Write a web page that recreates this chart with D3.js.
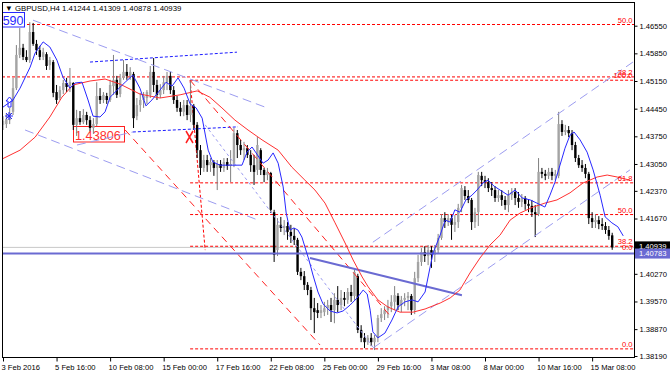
<!DOCTYPE html>
<html lang="en">
<head>
  <meta charset="UTF-8">
  <title>GBPUSD,H4</title>
  <style>
    body { margin: 0; background: #fff; }
    svg { display: block; font-family: "Liberation Sans", Arial, sans-serif; }
    .axis text { font-size: 7.6px; fill: #000; }
    .axis line { stroke: #000; }
  </style>
</head>
<body>
  <svg id="chart" width="670" height="376"></svg>

  <script src="https://d3js.org/d3.v7.min.js"></script>
  <script>
    // time axis
    const tickBars = [0, 16, 32, 48, 64, 80, 96, 112, 128, 144, 160, 176];
    const timeLabels = ["3 Feb 2016", "5 Feb 16:00", "10 Feb 08:00", "15 Feb 00:00", "17 Feb 16:00", "22 Feb 08:00",
      "25 Feb 00:00", "29 Feb 16:00", "3 Mar 08:00", "8 Mar 00:00", "10 Mar 16:00", "15 Mar 08:00"];
    const priceTicks = [1.4655, 1.4585, 1.4515, 1.4445, 1.4375, 1.4305, 1.4237, 1.4167, 1.4027, 1.3957, 1.3887, 1.3819];

    // H4 candles, bar 0 = 3 Feb 00:00
    const open = [
      1.4404,1.4406,1.4416,1.4437,1.4497,1.4581,1.4599,1.4576,1.4568,1.4639,
      1.4609,1.4593,1.4576,1.4583,1.4555,1.4563,1.4487,1.4472,1.4492,1.4510,
      1.4502,1.4510,1.4404,1.4421,1.4411,1.4429,1.4416,1.4396,1.4406,1.4477,
      1.4467,1.4477,1.4467,1.4502,1.4518,1.4482,1.4523,1.4538,1.4528,1.4533,
      1.4426,1.4454,1.4467,1.4472,1.4480,1.4538,1.4505,1.4480,1.4492,1.4512,
      1.4528,1.4492,1.4467,1.4447,1.4437,1.4454,1.4429,1.4452,1.4404,1.4340,
      1.4295,1.4315,1.4302,1.4310,1.4295,1.4305,1.4295,1.4310,1.4300,1.4305,
      1.4383,1.4353,1.4340,1.4345,1.4328,1.4302,1.4290,1.4340,1.4290,1.4277,
      1.4282,1.4183,1.4087,1.4151,1.4143,1.4148,1.4133,1.4123,1.4113,1.4032,
      1.4021,1.3999,1.3986,1.3940,1.3935,1.3928,1.3930,1.3940,1.3948,1.3935,
      1.3961,1.3948,1.3966,1.3961,1.3981,1.3971,1.4021,1.3885,1.3865,1.3854,
      1.3865,1.3854,1.3865,1.3915,1.3925,1.3935,1.3945,1.3956,1.3971,1.3948,
      1.3961,1.3966,1.3971,1.3935,1.4016,1.4057,1.4082,1.4072,1.4087,1.4075,
      1.4087,1.4118,1.4168,1.4158,1.4168,1.4151,1.4158,1.4194,1.4239,1.4224,
      1.4214,1.4158,1.4183,1.4275,1.4264,1.4259,1.4244,1.4239,1.4219,1.4226,
      1.4214,1.4201,1.4226,1.4234,1.4219,1.4209,1.4219,1.4204,1.4199,1.4183,
      1.4178,1.4285,1.4280,1.4275,1.4285,1.4275,1.4275,1.4406,1.4386,1.4391,
      1.4383,1.4353,1.4320,1.4302,1.4295,1.4280,1.4168,1.4158,1.4163,1.4153,
      1.4148,1.4138,1.41244];
    const high = [
      1.4426,1.4434,1.4447,1.4523,1.4606,1.4649,1.4609,1.4593,1.4664,1.4662,
      1.4619,1.4604,1.4599,1.4588,1.4576,1.4568,1.4505,1.4502,1.4518,1.4523,
      1.4548,1.4512,1.4442,1.4439,1.4444,1.4437,1.4426,1.4421,1.4512,1.4497,
      1.4487,1.4485,1.4518,1.4581,1.4528,1.4533,1.4568,1.4558,1.4550,1.4538,
      1.4472,1.4485,1.4487,1.4492,1.4553,1.4573,1.4518,1.4507,1.4528,1.4538,
      1.4538,1.4502,1.4477,1.4462,1.4467,1.4467,1.4518,1.4457,1.4411,1.4353,
      1.4328,1.4328,1.4320,1.4315,1.4315,1.4315,1.4320,1.4320,1.4340,1.4396,
      1.4391,1.4366,1.4361,1.4353,1.4340,1.4328,1.4373,1.4345,1.4295,1.4295,
      1.4285,1.4189,1.4168,1.4171,1.4163,1.4158,1.4151,1.4143,1.4118,1.4042,
      1.4034,1.4006,1.3994,1.3966,1.3953,1.3948,1.3956,1.3961,1.3966,1.3978,
      1.3996,1.3986,1.3981,1.3991,1.3999,1.4037,1.4027,1.3897,1.3877,1.3872,
      1.3877,1.3872,1.3923,1.3940,1.3945,1.3961,1.3973,1.3996,1.3978,1.3971,
      1.3978,1.3981,1.3976,1.4032,1.4075,1.4092,1.4097,1.4100,1.4097,1.4100,
      1.4128,1.4178,1.4183,1.4178,1.4176,1.4176,1.4204,1.4252,1.4249,1.4239,
      1.4219,1.4194,1.4285,1.4285,1.4275,1.4269,1.4259,1.4249,1.4239,1.4239,
      1.4224,1.4239,1.4244,1.4244,1.4234,1.4229,1.4224,1.4216,1.4214,1.4201,
      1.4320,1.4295,1.4290,1.4295,1.4295,1.4290,1.4437,1.4416,1.4404,1.4401,
      1.4391,1.4361,1.4328,1.4315,1.4305,1.4285,1.4183,1.4178,1.4173,1.4168,
      1.4158,1.4148,1.41309];
    const low = [
      1.4391,1.4396,1.4406,1.4429,1.4492,1.4573,1.4568,1.4563,1.4561,1.4604,
      1.4581,1.4568,1.4568,1.4543,1.4543,1.4474,1.4457,1.4467,1.4482,1.4487,
      1.4487,1.4391,1.4376,1.4404,1.4406,1.4404,1.4388,1.4381,1.4401,1.4457,
      1.4459,1.4457,1.4462,1.4480,1.4472,1.4474,1.4518,1.4518,1.4518,1.4396,
      1.4416,1.4437,1.4447,1.4457,1.4472,1.4487,1.4467,1.4472,1.4482,1.4492,
      1.4482,1.4457,1.4437,1.4426,1.4426,1.4416,1.4411,1.4391,1.4320,1.4277,
      1.4285,1.4285,1.4285,1.4275,1.4239,1.4285,1.4285,1.4290,1.4259,1.4297,
      1.4320,1.4328,1.4315,1.4320,1.4285,1.4252,1.4277,1.4277,1.4259,1.4264,
      1.4181,1.4057,1.4072,1.4133,1.4125,1.4113,1.4105,1.4100,1.4024,1.4011,
      1.3986,1.3973,1.3910,1.3877,1.3915,1.3915,1.3920,1.3923,1.3905,1.3902,
      1.3930,1.3935,1.3945,1.3951,1.3956,1.3961,1.3877,1.3854,1.3839,1.3847,
      1.3844,1.3834,1.3854,1.3905,1.3910,1.3915,1.3930,1.3935,1.3935,1.3930,
      1.3945,1.3935,1.3923,1.3925,1.4006,1.4047,1.4057,1.4049,1.4042,1.4057,
      1.4077,1.4113,1.4143,1.4148,1.4113,1.4133,1.4143,1.4183,1.4214,1.4206,
      1.4138,1.4143,1.4148,1.4249,1.4244,1.4234,1.4224,1.4209,1.4209,1.4199,
      1.4189,1.4183,1.4214,1.4201,1.4194,1.4196,1.4189,1.4183,1.4171,1.4120,
      1.4173,1.4269,1.4264,1.4267,1.4264,1.4264,1.4269,1.4376,1.4378,1.4373,
      1.4340,1.4310,1.4295,1.4285,1.4269,1.4153,1.4143,1.4143,1.4140,1.4138,
      1.4128,1.4113,1.40878];
    const close = [
      1.4414,1.4419,1.4434,1.4497,1.4581,1.4599,1.4576,1.4568,1.4639,1.4609,
      1.4593,1.4576,1.4588,1.4553,1.4568,1.4485,1.4467,1.4492,1.4510,1.4500,
      1.4512,1.4404,1.4421,1.4411,1.4429,1.4416,1.4396,1.4406,1.4477,1.4467,
      1.4480,1.4467,1.4505,1.4518,1.4480,1.4523,1.4538,1.4528,1.4538,1.4421,
      1.4454,1.4467,1.4477,1.4487,1.4538,1.4505,1.4480,1.4492,1.4512,1.4528,
      1.4492,1.4467,1.4447,1.4437,1.4454,1.4429,1.4452,1.4404,1.4340,1.4295,
      1.4315,1.4302,1.4310,1.4295,1.4305,1.4295,1.4310,1.4300,1.4305,1.4383,
      1.4353,1.4340,1.4345,1.4328,1.4302,1.4285,1.4353,1.4290,1.4277,1.4285,
      1.4189,1.4075,1.4151,1.4143,1.4148,1.4133,1.4123,1.4113,1.4032,1.4021,
      1.3999,1.3986,1.3940,1.3930,1.3928,1.3935,1.3940,1.3948,1.3935,1.3961,
      1.3948,1.3966,1.3961,1.3981,1.3971,1.4032,1.3885,1.3865,1.3854,1.3865,
      1.3854,1.3865,1.3915,1.3925,1.3935,1.3945,1.3956,1.3973,1.3948,1.3961,
      1.3966,1.3971,1.3935,1.4016,1.4057,1.4082,1.4072,1.4087,1.4075,1.4087,
      1.4118,1.4168,1.4158,1.4168,1.4151,1.4158,1.4194,1.4244,1.4224,1.4214,
      1.4158,1.4183,1.4277,1.4264,1.4259,1.4244,1.4239,1.4219,1.4226,1.4214,
      1.4201,1.4226,1.4234,1.4219,1.4209,1.4219,1.4204,1.4199,1.4183,1.4178,
      1.4285,1.4280,1.4275,1.4285,1.4275,1.4280,1.4406,1.4386,1.4391,1.4383,
      1.4353,1.4320,1.4302,1.4295,1.4280,1.4168,1.4158,1.4163,1.4153,1.4148,
      1.4138,1.4123,1.40939];

    // moving averages as (bar, price) points
    const fastMaBars = [0,3,5.1,8.1,9.6,12,14,16.1,17.9,20,21.5,23.6,25.4,26.9,29,30.5,32,34.1,36.5,38.8,40.9,42.7,44.5,46.9,48.7,50.5,52.3,54.1,55.9,57.7,59.5,61.3,62.7,64.8,71.4,72.9,74.4,75.6,77.7,79.2,80.7,82.2,83.7,84.6,85.7,86.9,88.1,89.3,90.2,91.4,92.6,94.1,95.6,97.7,99.8,101.6,103.7,105.8,107.6,108.8,109.7,110.5,112,114.1,116.2,118,120.1,122.2,124,126.1,127.6,128.5,130.6,132.1,133.6,135,136.5,138.3,140.1,141.6,143.4,144.9,146.7,148.5,150.9,153,155.1,157.5,159.5,161.9,163.4,164.9,166.4,167.9,169.4,170.6,172.4,174.5,176.3,178.4,179.9,181.9,183.7,185.3];
    const fastMaVals = [1.4449,1.4467,1.4497,1.4550,1.4586,1.4614,1.4601,1.4568,1.4525,1.4497,1.4510,1.4512,1.4467,1.4426,1.4424,1.4437,1.4474,1.4492,1.4512,1.4530,1.4497,1.4452,1.4467,1.4492,1.4512,1.4502,1.4523,1.4497,1.4457,1.4447,1.4421,1.4340,1.4310,1.4302,1.4302,1.4335,1.4348,1.4333,1.4307,1.4315,1.4333,1.4307,1.4247,1.4181,1.4138,1.4143,1.4138,1.4120,1.4095,1.4062,1.4024,1.3981,1.3951,1.3933,1.3928,1.3933,1.3948,1.3966,1.3986,1.3976,1.3935,1.3880,1.3865,1.3877,1.3910,1.3943,1.3956,1.3961,1.3956,1.3981,1.4044,1.4080,1.4125,1.4163,1.4158,1.4189,1.4183,1.4214,1.4226,1.4239,1.4257,1.4264,1.4249,1.4239,1.4226,1.4239,1.4219,1.4214,1.4206,1.4196,1.4226,1.4259,1.4302,1.4345,1.4378,1.4386,1.4366,1.4335,1.4290,1.4226,1.4171,1.4156,1.4146,1.4123];
    const slowMaBars = [-0.9,5.1,9.6,14,17.6,20.9,26,30.5,35,40.9,46.9,52.9,58,61.8,65.4,69.3,73.2,77.4,82.2,86.3,90.2,93.2,96.2,99.2,102.2,104.6,107.3,109.1,112,115,118.6,122.5,126.1,130.6,133.6,136.5,139.5,142.5,145.5,148.5,151.5,154.5,158.4,161.9,165.5,169.4,173.3,177.5,180.5,183.5,187.3];
    const slowMaVals = [1.4315,1.4340,1.4373,1.4424,1.4474,1.4505,1.4515,1.4520,1.4507,1.4482,1.4472,1.4480,1.4490,1.4474,1.4447,1.4416,1.4391,1.4366,1.4340,1.4297,1.4264,1.4239,1.4206,1.4156,1.4105,1.4062,1.4019,1.3994,1.3961,1.3943,1.3930,1.3930,1.3938,1.3953,1.3966,1.3986,1.4029,1.4067,1.4100,1.4125,1.4163,1.4181,1.4196,1.4206,1.4214,1.4232,1.4257,1.4272,1.4277,1.4272,1.4264];

    // Fibonacci retracements
    const fib1Levels = [0, 38.2, 50, 61.8, 100];
    const fib1Range = [1.3837, 1.4517];
    const fib1StartBar = 55.9;
    const fib2Levels = [38.2, 50];
    const fib2Range = [1.4096, 1.5220];

    // drawn objects: [bar1, price1, bar2, price2]
    const channelLines = [
      [8.96, 1.4669, 78.9, 1.4447],
      [6.6, 1.4391, 76.2, 1.4163],
      [22.1, 1.4353, 38.8, 1.4386],
      [110.5, 1.4107, 188.2, 1.4563],
      [110.5, 1.3839, 187.3, 1.4290]
    ];
    const dottedLines = [[60.4, 1.4404, 110.5, 1.3842]];
    const blueDotLines = [[26, 1.4563, 69.9, 1.4588], [38.8, 1.4386, 70.2, 1.4399]];
    const redDashLines = [[36.5, 1.4391, 94.7, 1.3847], [55.9, 1.4517, 116.2, 1.3915]];
    const fibTrend = [55.9, 1.4517, 60.4, 1.4087];
    const trendLine = [91.7, 1.4067, 137.1, 1.3973];
    const hLevel = 1.40783;
    const bid = 1.40939;
    const quote = [1.41244, 1.41309, 1.40878, 1.40939];

    const svg = d3.select("#chart");
    const plot = { left: 2, top: 2, right: 634, bottom: 357 };

    const x = d3.scaleLinear().domain([0, 182]).range([3, 612.2]);
    const y = d3.scaleLinear().domain([1.3819, 1.4655]).range([356, 25.7]);

    svg.append("defs").append("clipPath").attr("id", "clip")
      .append("rect")
      .attr("x", plot.left).attr("y", plot.top)
      .attr("width", plot.right - plot.left).attr("height", plot.bottom - plot.top);

    const g = svg.append("g").attr("clip-path", "url(#clip)");

    const seg = (sel, d, color, dash, w) => sel.append("line")
      .attr("x1", x(d[0])).attr("y1", y(d[1]))
      .attr("x2", x(d[2])).attr("y2", y(d[3]))
      .attr("stroke", color).attr("stroke-width", w || 1)
      .attr("stroke-dasharray", dash || null);

    // bid line
    g.append("line")
      .attr("x1", plot.left).attr("x2", plot.right)
      .attr("y1", y(bid)).attr("y2", y(bid))
      .attr("stroke", "#c8c8c8");

    // text label under the bars
    g.append("rect").attr("x", 73.5).attr("y", 126.5).attr("width", 51).attr("height", 15.5)
      .attr("fill", "none").attr("stroke", "#ff2020");
    g.append("text").attr("x", 75).attr("y", 140).attr("font-size", 12.7)
      .attr("fill", "#ff3030").text("1.43806");

    // fib levels
    fib1Levels.forEach(l => {
      const p = fib1Range[0] + l / 100 * (fib1Range[1] - fib1Range[0]);
      g.append("line").attr("x1", x(fib1StartBar)).attr("x2", plot.right)
        .attr("y1", y(p)).attr("y2", y(p))
        .attr("stroke", "#ff0000").attr("stroke-dasharray", "3,2");
    });
    fib2Levels.forEach(l => {
      const p = fib2Range[0] + l / 100 * (fib2Range[1] - fib2Range[0]);
      g.append("line").attr("x1", plot.left).attr("x2", plot.right)
        .attr("y1", y(p)).attr("y2", y(p))
        .attr("stroke", "#ff0000").attr("stroke-dasharray", "3,2");
    });
    seg(g, fibTrend, "#ff0000", "3,2");

    // candles
    const bars = d3.range(close.length);
    const up = i => close[i] >= open[i];
    g.selectAll(".wick").data(bars).join("line")
      .attr("class", "wick")
      .attr("x1", i => x(i)).attr("x2", i => x(i))
      .attr("y1", i => y(high[i])).attr("y2", i => y(low[i]))
      .attr("stroke", i => up(i) ? "#808080" : "#000");
    g.selectAll(".body").data(bars).join("rect")
      .attr("class", "body")
      .attr("x", i => x(i) - 1.2).attr("width", 2.4)
      .attr("y", i => y(Math.max(open[i], close[i])))
      .attr("height", i => Math.max(1, Math.abs(y(open[i]) - y(close[i]))))
      .attr("fill", i => up(i) ? "#a4a4a4" : "#000");

    // objects
    channelLines.forEach(d => seg(g, d, "#9c9cf0", "9,5"));
    dottedLines.forEach(d => seg(g, d, "#9c9cf0", "3,3"));
    blueDotLines.forEach(d => seg(g, d, "#1a1aff", "3,2"));
    redDashLines.forEach(d => seg(g, d, "#ff2020", "7,5"));
    seg(g, trendLine, "#6a6ad2", null, 2);
    g.append("line")
      .attr("x1", plot.left).attr("x2", plot.right)
      .attr("y1", y(hLevel)).attr("y2", y(hLevel))
      .attr("stroke", "#6a6ad2").attr("stroke-width", 2);

    // moving averages
    const line = d3.line().x(d => x(d[0])).y(d => y(d[1]));
    g.append("path").datum(slowMaBars.map((b, i) => [b, slowMaVals[i]]))
      .attr("d", line).attr("fill", "none").attr("stroke", "#ff3030");
    g.append("path").datum(fastMaBars.map((b, i) => [b, fastMaVals[i]]))
      .attr("d", line).attr("fill", "none").attr("stroke", "#2828ff");

    // markers
    g.append("path").attr("d", "M186,131 L193,143 M193,131 L186,143")
      .attr("stroke", "#ff2020").attr("stroke-width", 1.5);
    g.append("path").attr("d", "M9.5,97 L13,101 L11,101 L11,107 L8,107 L8,101 L6,101 Z")
      .attr("fill", "none").attr("stroke", "#2828ff");
    g.append("path").attr("d", "M9,112 L9,120 M5,116 L13,116 M6,113 L12,119 M12,113 L6,119")
      .attr("stroke", "#2828ff");

    // blue price label top left
    g.append("rect").attr("x", 1.5).attr("y", 12.5).attr("width", 23).attr("height", 14.5)
      .attr("fill", "#fff").attr("stroke", "#2828ff");
    g.append("text").attr("x", 23.5).attr("y", 25).attr("text-anchor", "end")
      .attr("font-size", 12.5).attr("fill", "#2828ff").text("590");

    // fib labels
    const fibLabel = (txt, p, dy) => g.append("text")
      .attr("x", 632.5).attr("y", y(p) + dy).attr("text-anchor", "end")
      .attr("font-size", 7.6).attr("fill", "#ff0000").text(txt);
    fib1Levels.forEach(l => {
      const p = fib1Range[0] + l / 100 * (fib1Range[1] - fib1Range[0]);
      fibLabel(l.toFixed(1), p, -2);
    });
    fib2Levels.forEach(l => {
      const p = fib2Range[0] + l / 100 * (fib2Range[1] - fib2Range[0]);
      fibLabel(l.toFixed(1), p, -2);
    });
    fibLabel("0.0", fib2Range[0], 3);

    // frame
    svg.append("rect")
      .attr("x", plot.left + 0.5).attr("y", plot.top + 0.5)
      .attr("width", plot.right - plot.left).attr("height", plot.bottom - plot.top)
      .attr("fill", "none").attr("stroke", "#000");

    // axes
    const yAxis = d3.axisRight(y).tickValues(priceTicks)
      .tickFormat(d3.format(".5f")).tickSize(3).tickPadding(2);
    svg.append("g").attr("class", "axis")
      .attr("transform", `translate(${plot.right + 0.5},0)`)
      .call(yAxis)
      .call(a => a.select(".domain").remove());

    const xAxis = d3.axisBottom(x).tickValues(tickBars)
      .tickFormat((d, i) => timeLabels[i]).tickSize(4).tickPadding(3);
    svg.append("g").attr("class", "axis")
      .attr("transform", `translate(0,${plot.bottom + 0.5})`)
      .call(xAxis)
      .call(a => a.select(".domain").remove())
      .call(a => a.selectAll("text").attr("text-anchor", "start").attr("dx", -2));

    // price boxes on the axis
    const box = (p, bg, off) => {
      const cy = y(p) + off;
      svg.append("rect").attr("x", 635).attr("y", cy - 5).attr("width", 35).attr("height", 10)
        .attr("fill", bg);
      svg.append("text").attr("x", 639).attr("y", cy + 2.7)
        .attr("font-size", 7.6).attr("fill", "#fff").text(d3.format(".5f")(p));
    };
    box(bid, "#000", -1);
    box(hLevel, "#6a6ad2", 0);

    // header
    svg.append("text").attr("x", 5).attr("y", 11).attr("font-size", 7.8).attr("fill", "#000")
      .text("\u25BC GBPUSD,H4  " + quote.map(d3.format(".5f")).join(" "));
  </script>
</body>
</html>
